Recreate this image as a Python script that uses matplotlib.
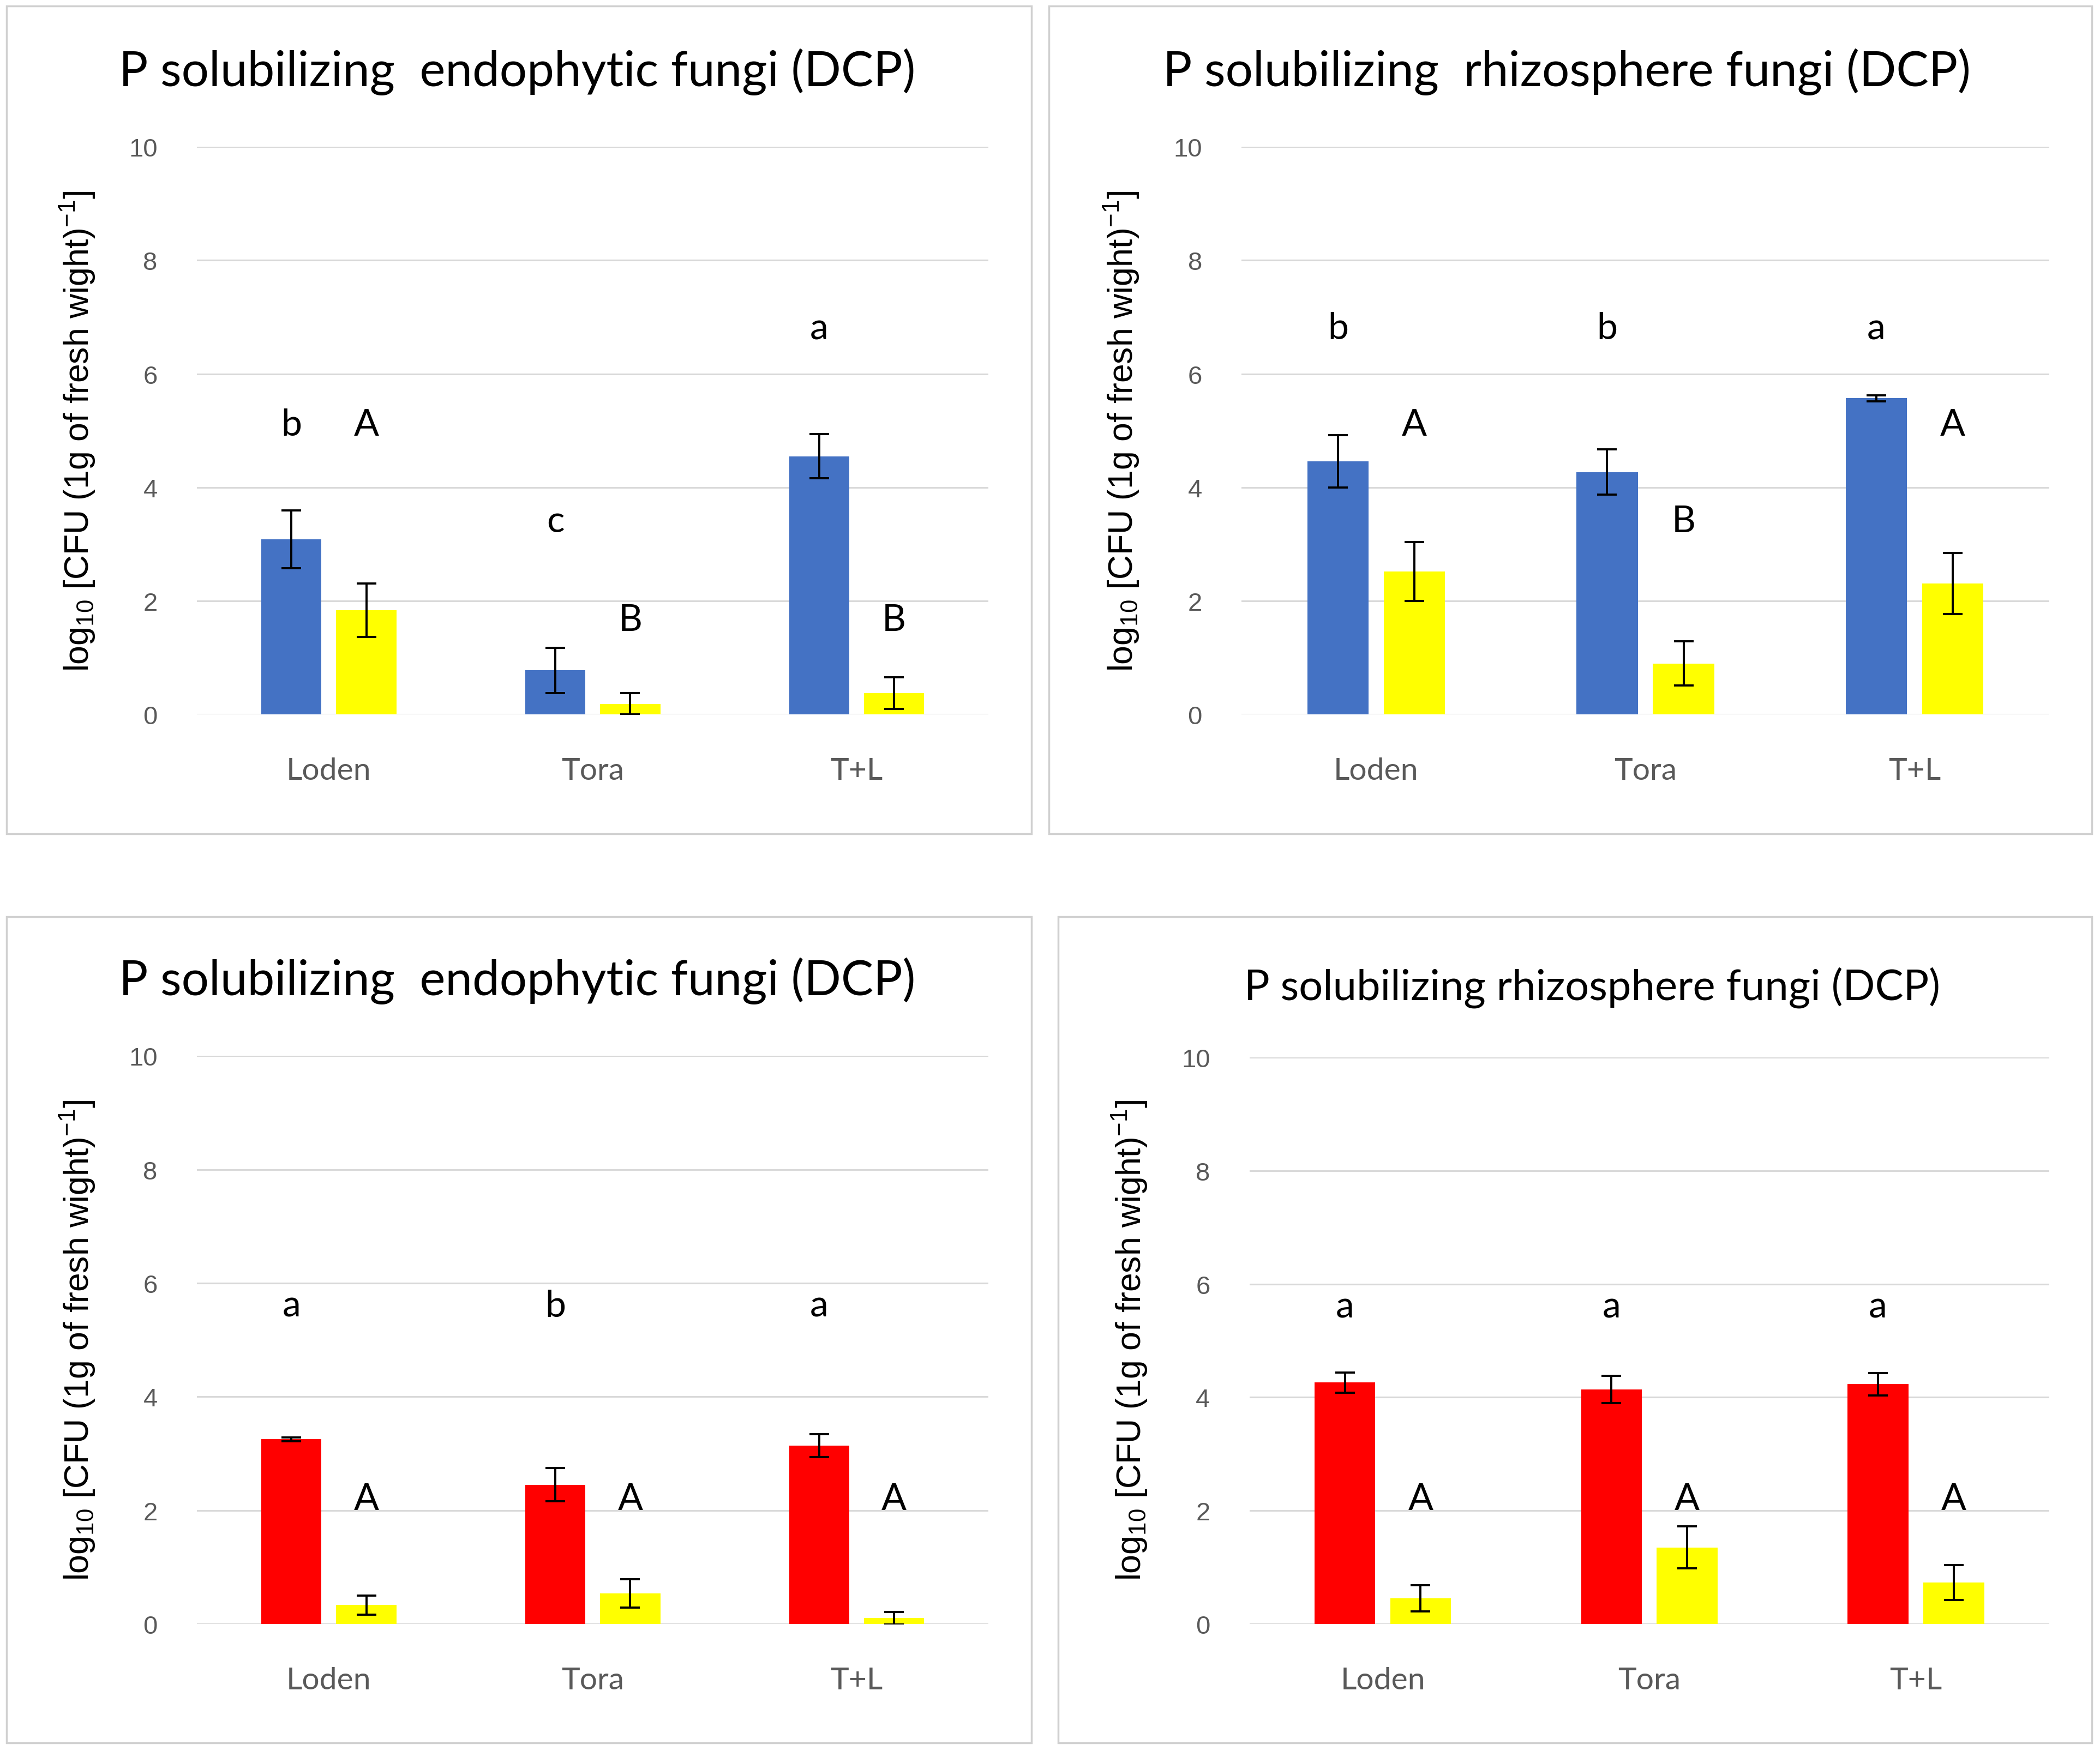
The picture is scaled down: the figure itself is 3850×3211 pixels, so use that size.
import matplotlib
matplotlib.use("Agg")
import matplotlib.pyplot as plt
from matplotlib.patches import Rectangle
import numpy as np

plt.rcParams['font.family'] = ['Lato', 'DejaVu Sans']
plt.rcParams['mathtext.fontset'] = 'custom'
plt.rcParams['mathtext.rm'] = 'Liberation Sans'
plt.rcParams['mathtext.it'] = 'Liberation Sans'

categories = ['Loden', 'Tora', 'T+L']

# top left: endophytic fungi, blue / yellow
tl_first = [3.09, 0.78, 4.55]
tl_first_err = [0.51, 0.40, 0.39]
tl_second = [1.84, 0.19, 0.38]
tl_second_err = [0.47, 0.19, 0.28]
tl_first_letters = ['b', 'c', 'a']
tl_first_letter_y = [5.1, 3.4, 6.8]
tl_second_letters = ['A', 'B', 'B']
tl_second_letter_y = [5.1, 1.67, 1.67]

# top right: rhizosphere fungi, blue / yellow
tr_first = [4.46, 4.27, 5.57]
tr_first_err = [0.46, 0.40, 0.05]
tr_second = [2.52, 0.90, 2.31]
tr_second_err = [0.52, 0.39, 0.54]
tr_first_letters = ['b', 'b', 'a']
tr_first_letter_y = [6.8, 6.8, 6.8]
tr_second_letters = ['A', 'B', 'A']
tr_second_letter_y = [5.1, 3.4, 5.1]

# bottom left: endophytic fungi, red / yellow
bl_first = [3.25, 2.45, 3.14]
bl_first_err = [0.03, 0.29, 0.20]
bl_second = [0.33, 0.54, 0.10]
bl_second_err = [0.17, 0.25, 0.11]
bl_first_letters = ['a', 'b', 'a']
bl_first_letter_y = [5.6, 5.6, 5.6]
bl_second_letters = ['A', 'A', 'A']
bl_second_letter_y = [2.2, 2.2, 2.2]

# bottom right: rhizosphere fungi, red / yellow
br_first = [4.26, 4.14, 4.23]
br_first_err = [0.18, 0.24, 0.20]
br_second = [0.45, 1.35, 0.73]
br_second_err = [0.23, 0.37, 0.31]
br_first_letters = ['a', 'a', 'a']
br_first_letter_y = [5.6, 5.6, 5.6]
br_second_letters = ['A', 'A', 'A']
br_second_letter_y = [2.2, 2.2, 2.2]

BLUE = '#4472C4'
YELLOW = '#FFFF00'
RED = '#FF0000'
GRID = '#D9D9D9'
TICK = '#595959'

fig = plt.figure(figsize=(38.5, 32.12), dpi=100)

# panel frames (figure fractions)
frames = [(0.0032, 0.5237, 0.4879, 0.4725),
          (0.4994, 0.5237, 0.4968, 0.4725),
          (0.0032, 0.0046, 0.4879, 0.4717),
          (0.5038, 0.0046, 0.4923, 0.4717)]
for f in frames:
    fig.patches.append(Rectangle((f[0], f[1]), f[2], f[3], transform=fig.transFigure,
                                 facecolor='none', edgecolor='#D0D0D0', linewidth=2.5))

panels = [
    dict(rect=[0.09375, 0.5917, 0.3770, 0.3242], title='P solubilizing  endophytic fungi (DCP)',
         tx=0.2462, ty=0.959, tsize=64, c1=BLUE, a=tl_first, ae=tl_first_err, b=tl_second, be=tl_second_err,
         la=tl_first_letters, lay=tl_first_letter_y, lb=tl_second_letters, lby=tl_second_letter_y, ylx=0.037),
    dict(rect=[0.5912, 0.5917, 0.3846, 0.3242], title='P solubilizing  rhizosphere fungi (DCP)',
         tx=0.7462, ty=0.959, tsize=64, c1=BLUE, a=tr_first, ae=tr_first_err, b=tr_second, be=tr_second_err,
         la=tr_first_letters, lay=tr_first_letter_y, lb=tr_second_letters, lby=tr_second_letter_y, ylx=0.534),
    dict(rect=[0.09375, 0.0726, 0.3770, 0.3242], title='P solubilizing  endophytic fungi (DCP)',
         tx=0.2462, ty=0.440, tsize=64, c1=RED, a=bl_first, ae=bl_first_err, b=bl_second, be=bl_second_err,
         la=bl_first_letters, lay=bl_first_letter_y, lb=bl_second_letters, lby=bl_second_letter_y, ylx=0.037),
    dict(rect=[0.5950, 0.0726, 0.3808, 0.3234], title='P solubilizing rhizosphere fungi (DCP)',
         tx=0.7583, ty=0.436, tsize=56, c1=RED, a=br_first, ae=br_first_err, b=br_second, be=br_second_err,
         la=br_first_letters, lay=br_first_letter_y, lb=br_second_letters, lby=br_second_letter_y, ylx=0.538),
]

x = np.arange(len(categories))
w = 0.228
off = 0.142

for p in panels:
    ax = fig.add_axes(p['rect'])
    ax.bar(x - off, p['a'], w, color=p['c1'], zorder=2)
    ax.bar(x + off, p['b'], w, color=YELLOW, zorder=2)
    ax.errorbar(x - off, p['a'], yerr=p['ae'], fmt='none', ecolor='black',
                elinewidth=2.8, capsize=13, capthick=2.8, zorder=3)
    ax.errorbar(x + off, p['b'], yerr=p['be'], fmt='none', ecolor='black',
                elinewidth=2.8, capsize=13, capthick=2.8, zorder=3)
    for i in range(len(categories)):
        ax.text(x[i] - off, p['lay'][i], p['la'][i], ha='center', va='center', fontsize=49)
        ax.text(x[i] + off, p['lby'][i], p['lb'][i], ha='center', va='center', fontsize=49)
    ax.set_xlim(-0.5, 2.5)
    ax.set_ylim(0, 10)
    ax.set_yticks(range(0, 11, 2))
    ax.set_xticks(x)
    ax.set_xticklabels(categories)
    ax.grid(True, axis='y', color=GRID, linewidth=2.2, zorder=0)
    ax.set_axisbelow(True)
    for s in ax.spines.values():
        s.set_visible(False)
    ax.tick_params(axis='both', length=0, colors=TICK)
    ax.tick_params(axis='y', labelsize=34, pad=52)
    ax.tick_params(axis='x', labelsize=41, pad=56)
    for lab in ax.get_yticklabels():
        lab.set_fontfamily('Liberation Sans')
    fig.text(p['ylx'], p['rect'][1] + 0.5 * 0.3242,
             r'log$_{10}$ [CFU (1g of fresh wight)$^{-1}$]', rotation=90,
             ha='center', va='center', fontsize=45, family='Liberation Sans')

    fig.text(p['tx'], p['ty'], p['title'], ha='center', va='center', fontsize=p['tsize'])

fig.savefig('out.png', dpi=100, facecolor='white')
